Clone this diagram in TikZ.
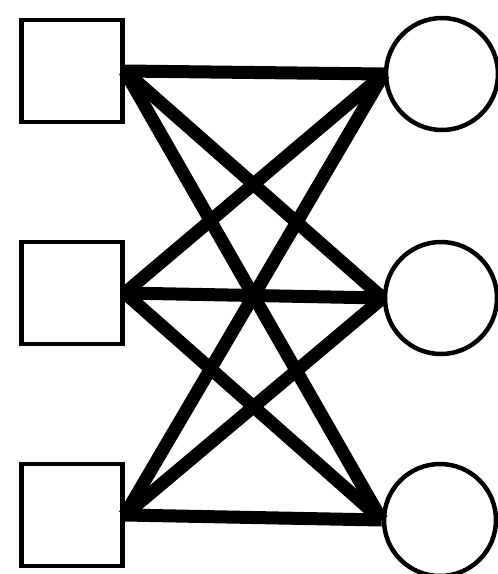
\documentclass[tikz,border=0pt]{standalone}
\usepackage{tikz}
\usetikzlibrary{positioning}

\begin{document}
\begin{tikzpicture}[x=1pt, y=-1pt,
      fac/.style={draw, fill=white, line width=4.5pt, inner sep=0pt,
                  minimum width=101pt, minimum height=102pt},
      var/.style={draw, fill=white, circle, line width=4.5pt, inner sep=0pt,
                  minimum size=112pt},
      link/.style={line width=13pt}]
    \useasboundingbox (0,0) rectangle (498,574);
    \node[fac] (f1) at (72,71) {};
    \node[fac] (f2) at (72,293) {};
    \node[fac] (f3) at (72,515) {};
    \node[var] (v1) at (442,74) {};
    \node[var] (v2) at (441,298) {};
    \node[var] (v3) at (440,520) {};
    \foreach \i in {1,2,3}
      \foreach \j in {1,2,3}
        \draw[link] (f\i.east) -- (v\j.west);
  \end{tikzpicture}
\end{document}
